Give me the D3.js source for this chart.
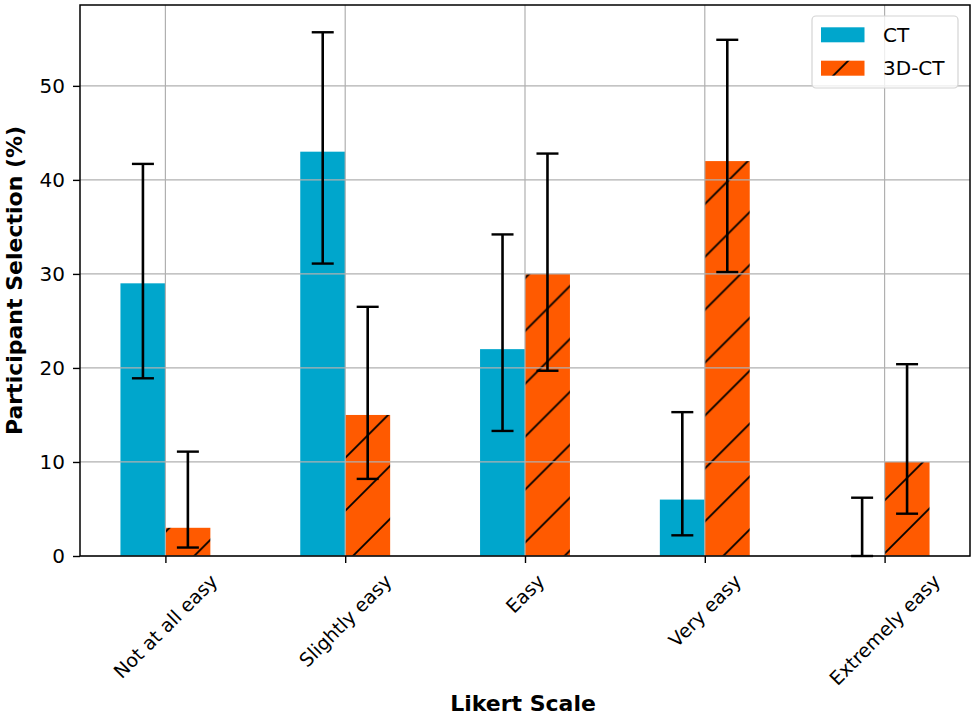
<!DOCTYPE html>
<html>
<head>
<meta charset="utf-8">
<script src="https://cdn.jsdelivr.net/npm/d3@7"></script>
<style>
  html, body { margin: 0; padding: 0; background: #fff; }
  svg { display: block; }
</style>
</head>
<body>
<div id="chart"></div>
<script>
// Likert scale ease ratings, CT vs 3D-CT, with error bars
const categories = ["Not at all easy", "Slightly easy", "Easy", "Very easy", "Extremely easy"];
const seriesNames = ["CT", "3D-CT"];
const ctValues = [29, 43, 22, 6, 0];
const ctLower = [18.9, 31.1, 13.3, 2.2, 0];
const ctUpper = [41.7, 55.7, 34.2, 15.3, 6.2];
const ct3dValues = [3, 15, 30, 42, 10];
const ct3dLower = [0.9, 8.2, 19.7, 30.2, 4.5];
const ct3dUpper = [11.1, 26.5, 42.8, 54.9, 20.4];
const yTicks = [0, 10, 20, 30, 40, 50];

function createChart() {
    const W = 976, H = 715;
    const margin = { top: 5, right: 6, bottom: 159, left: 80 };
    const width = W - margin.left - margin.right;
    const height = H - margin.top - margin.bottom;
    const font = "'DejaVu Sans', sans-serif";
    const ctColor = "#00a6cc";
    const orange = "#ff5a00";
    const barW = 0.25;

    const svg = d3.select("#chart").append("svg")
        .attr("width", W)
        .attr("height", H);

    // hatch pattern, one global phase for the whole figure (like matplotlib)
    const P = 52.9;
    const phase = 9.6;
    const defs = svg.append("defs");
    function makeHatch(id, ox, oy) {
        const pat = defs.append("pattern")
            .attr("id", id)
            .attr("patternUnits", "userSpaceOnUse")
            .attr("x", phase - ox)
            .attr("y", -oy)
            .attr("width", P)
            .attr("height", P);
        pat.append("rect").attr("width", P).attr("height", P).attr("fill", orange);
        pat.append("path")
            .attr("d", `M0,${P} L${P},0 M-2,2 L2,-2 M${P - 2},${P + 2} L${P + 2},${P - 2}`)
            .attr("stroke", "#000")
            .attr("stroke-width", 1.8);
    }
    makeHatch("hatch-plot", margin.left, margin.top);
    makeHatch("hatch-legend", 0, 0);

    const g = svg.append("g")
        .attr("transform", `translate(${margin.left},${margin.top})`);

    const x = d3.scaleLinear().domain([-0.475, 4.475]).range([0, width]);
    const y = d3.scaleLinear().domain([0, 58.6]).range([height, 0]);

    const data = categories.map((c, i) => ({
        i, c,
        ct: ctValues[i], ctLo: ctLower[i], ctHi: ctUpper[i],
        d3: ct3dValues[i], d3Lo: ct3dLower[i], d3Hi: ct3dUpper[i]
    }));

    // bars
    g.selectAll(".bar-ct").data(data).enter().append("rect")
        .attr("class", "bar-ct")
        .attr("x", d => x(d.i - barW))
        .attr("width", d => x(d.i) - x(d.i - barW))
        .attr("y", d => y(d.ct))
        .attr("height", d => y(0) - y(d.ct))
        .attr("fill", ctColor);

    g.selectAll(".bar-3d").data(data).enter().append("rect")
        .attr("class", "bar-3d")
        .attr("x", d => x(d.i))
        .attr("width", d => x(d.i + barW) - x(d.i))
        .attr("y", d => y(d.d3))
        .attr("height", d => y(0) - y(d.d3))
        .attr("fill", "url(#hatch-plot)");

    // grid (above bars, below error bars)
    const grid = g.append("g").attr("class", "grid");
    grid.selectAll(".gx").data(data).enter().append("line")
        .attr("x1", d => x(d.i)).attr("x2", d => x(d.i))
        .attr("y1", 0).attr("y2", height)
        .attr("stroke", "#b0b0b0").attr("stroke-width", 1.2);
    grid.selectAll(".gy").data(yTicks).enter().append("line")
        .attr("x1", 0).attr("x2", width)
        .attr("y1", d => y(d)).attr("y2", d => y(d))
        .attr("stroke", "#b0b0b0").attr("stroke-width", 1.2);

    // error bars
    const cap = 11;
    const errs = [];
    data.forEach(d => {
        errs.push({ xv: d.i - barW / 2, lo: d.ctLo, hi: d.ctHi });
        errs.push({ xv: d.i + barW / 2, lo: d.d3Lo, hi: d.d3Hi });
    });
    const eg = g.selectAll(".err").data(errs).enter().append("g").attr("class", "err");
    eg.append("line")
        .attr("x1", d => x(d.xv)).attr("x2", d => x(d.xv))
        .attr("y1", d => y(d.lo)).attr("y2", d => y(d.hi))
        .attr("stroke", "#000").attr("stroke-width", 2.6);
    eg.append("line")
        .attr("x1", d => x(d.xv) - cap).attr("x2", d => x(d.xv) + cap)
        .attr("y1", d => y(d.hi)).attr("y2", d => y(d.hi))
        .attr("stroke", "#000").attr("stroke-width", 2.4);
    eg.append("line")
        .attr("x1", d => x(d.xv) - cap).attr("x2", d => x(d.xv) + cap)
        .attr("y1", d => y(d.lo)).attr("y2", d => y(d.lo))
        .attr("stroke", "#000").attr("stroke-width", 2.4);

    // y axis
    const yAxis = g.append("g")
        .call(d3.axisLeft(y).tickValues(yTicks).tickSize(7).tickPadding(8));
    yAxis.select(".domain").remove();
    yAxis.selectAll("line").attr("stroke", "#000").attr("stroke-width", 1.4);
    yAxis.selectAll("text")
        .attr("font-family", font)
        .attr("font-size", "20px")
        .attr("fill", "#000");

    // x axis with rotated labels
    const xAxis = g.append("g")
        .attr("transform", `translate(0,${height})`)
        .call(d3.axisBottom(x).tickValues(d3.range(categories.length))
            .tickFormat(i => categories[i]).tickSize(7));
    xAxis.select(".domain").remove();
    xAxis.selectAll("line").attr("stroke", "#000").attr("stroke-width", 1.4);
    const fs = 19;
    xAxis.selectAll("text")
        .attr("font-family", font)
        .attr("font-size", fs + "px")
        .attr("fill", "#000")
        .attr("text-anchor", "middle")
        .attr("dy", "0.32em")
        .attr("y", 0)
        .each(function() {
            const L = this.getComputedTextLength();
            const bh = (L + fs * 1.16) * Math.SQRT1_2;
            d3.select(this).attr("transform", `translate(0,${14.5 + bh / 2}) rotate(-45)`);
        });

    // frame
    g.append("rect")
        .attr("width", width).attr("height", height)
        .attr("fill", "none").attr("stroke", "#000").attr("stroke-width", 1.5);

    // axis labels
    svg.append("text")
        .attr("x", margin.left + width / 2 - 2)
        .attr("y", 711)
        .attr("text-anchor", "middle")
        .attr("font-family", font)
        .attr("font-size", "22px")
        .attr("font-weight", "bold")
        .text("Likert Scale");

    svg.append("text")
        .attr("transform", `translate(22,${margin.top + height / 2}) rotate(-90)`)
        .attr("text-anchor", "middle")
        .attr("font-family", font)
        .attr("font-size", "22px")
        .attr("font-weight", "bold")
        .text("Participant Selection (%)");

    // legend
    const lg = svg.append("g").attr("class", "legend");
    lg.append("rect")
        .attr("x", 812).attr("y", 16)
        .attr("width", 146).attr("height", 72)
        .attr("rx", 4)
        .attr("fill", "#fff").attr("fill-opacity", 0.8)
        .attr("stroke", "#d4d4d4").attr("stroke-width", 1.2);
    const fills = [ctColor, "url(#hatch-legend)"];
    seriesNames.forEach((name, k) => {
        const yy = 27.3 + k * 33.4;
        lg.append("rect")
            .attr("x", 821).attr("y", yy)
            .attr("width", 43.5).attr("height", 15)
            .attr("fill", fills[k]);
        lg.append("text")
            .attr("x", 883).attr("y", yy + 7.5)
            .attr("dy", "0.36em")
            .attr("font-family", font)
            .attr("font-size", "20px")
            .text(name);
    });
}

createChart();
</script>
</body>
</html>
